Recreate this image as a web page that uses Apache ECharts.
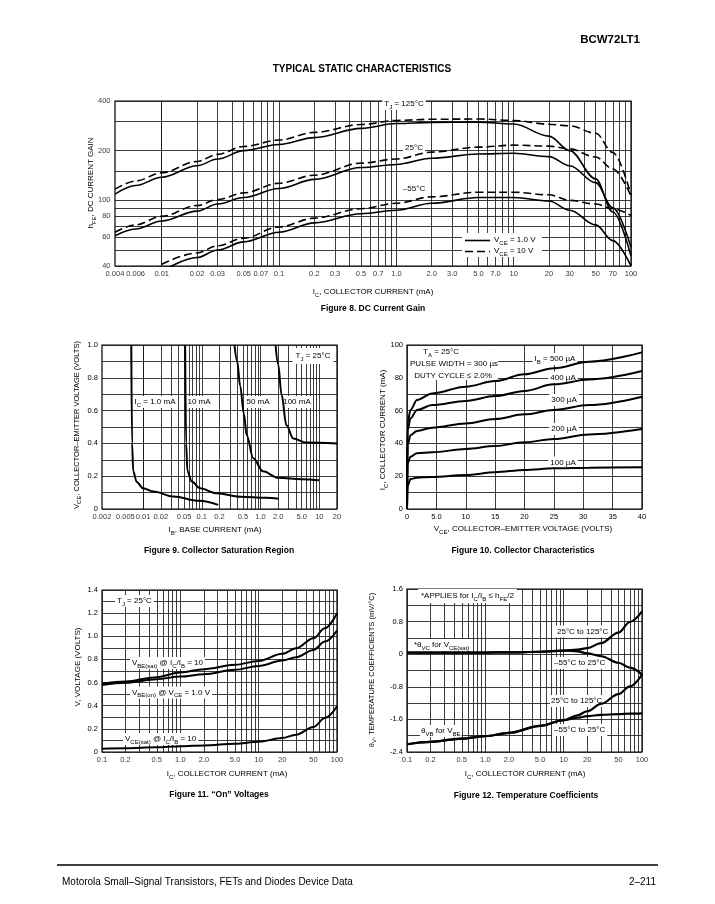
<!DOCTYPE html>
<html>
<head>
<meta charset="utf-8">
<title>BCW72LT1 Typical Static Characteristics</title>
<script src="https://cdn.jsdelivr.net/npm/echarts@6/dist/echarts.min.js"></script>
<style>
  html, body { margin: 0; padding: 0; background: #fff; }
  #main { width: 715px; height: 904px; }
</style>
</head>
<body>
<div id="main"></div>
<script>
var FONT = "'Liberation Sans', Arial, Helvetica, sans-serif";

// Figure 8 - DC current gain (hFE vs IC)
var gainIc     = [0.004, 0.006, 0.01, 0.02, 0.03, 0.05, 0.1, 0.2, 0.5, 1, 2, 5, 10, 20, 30, 50, 70, 100];
var gain125V1  = [109, 123, 138, 162, 178, 200, 218, 240, 273, 292, 297, 298, 290, 245, 200, 135, 85, 46];
var gain125V10 = [117, 131, 147, 172, 190, 212, 232, 258, 288, 305, 310, 311, 305, 289, 283, 255, 195, 108];
var gain25V1   = [61, 67, 75, 86, 95, 104, 118, 134, 158, 165, 180, 191, 193, 184, 162, 128, 90, 52];
var gain25V10  = [64, 71, 80, 93, 101, 111, 127, 142, 168, 178, 196, 210, 216, 213, 205, 183, 155, 106];
var gainM55V1  = [null, null, 37, 45, 50, 56, 64, 73, 83, 87, 96, 104, 104, 99, 87, 71, 57, 40];
var gainM55V10 = [null, null, 41, 48, 53, 59, 69, 78, 89, 96, 105, 112, 112, 108, 100, 95, 89, 81];
var gainXTicks = ['0.004', '0.006', '0.01', '0.02', '0.03', '0.05', '0.07', '0.1', '0.2', '0.3', '0.5', '0.7',
                  '1.0', '2.0', '3.0', '5.0', '7.0', '10', '20', '30', '50', '70', '100'];
var gainYTicks = [40, 60, 80, 100, 200, 400];
var gainYGrid  = [40, 50, 60, 70, 80, 90, 100, 150, 200, 300, 400];

// Figure 9 - collector saturation region (VCE vs IB)
var satIb1    = [0.0063, 0.0065, 0.0068, 0.0078, 0.010, 0.015, 0.033, 0.09, 0.19];
var satVce1   = [1.0, 0.40, 0.23, 0.165, 0.126, 0.106, 0.076, 0.050, 0.025];
var satIb10   = [0.052, 0.054, 0.057, 0.0675, 0.093, 0.18, 0.45, 1.25, 2.0];
var satVce10  = [1.0, 0.40, 0.23, 0.167, 0.126, 0.096, 0.075, 0.068, 0.063];
var satIb50   = [0.36, 0.40, 0.45, 0.52, 0.58, 0.75, 1.1, 2.0, 5.0, 10];
var satVce50  = [1.0, 0.90, 0.75, 0.58, 0.45, 0.31, 0.23, 0.19, 0.182, 0.175];
var satIb100  = [1.8, 2.0, 2.27, 2.76, 3.6, 6.0, 20];
var satVce100 = [1.0, 0.88, 0.70, 0.51, 0.43, 0.405, 0.40];
var satXTicks = ['0.002', '0.005', '0.01', '0.02', '0.05', '0.1', '0.2', '0.5', '1.0', '2.0', '5.0', '10', '20'];

// Figure 10 - collector characteristics (IC vs VCE)
var colVce   = [0, 0.1, 0.6, 1.7, 4.3, 10, 15, 20, 25, 31, 40];
var colIb100 = [0, 14, 18.3, 19.1, 19.5, 20.7, 22.4, 23.8, 24.8, 25.2, 25.4];
var colIb200 = [0, 27.8, 31.9, 34, 34.6, 36.6, 38.4, 40.7, 42.7, 45.5, 48.8];
var colIb300 = [0, 39, 45, 47.6, 49.6, 52.2, 54.9, 57.7, 60.4, 63.4, 68.5];
var colIb400 = [0, 48, 55.3, 60.4, 63.4, 65.9, 68.9, 72, 76, 79, 84.1];
var colIb500 = [0, 52.8, 60.4, 66.5, 70.5, 74.6, 78, 82.1, 85.8, 89.8, 95.5];

// Figure 11 - "on" voltages
var onIc     = [0.1, 0.2, 0.5, 1, 2, 5, 10, 20, 30, 50, 70, 100];
var onVbeSat = [0.589, 0.609, 0.647, 0.687, 0.716, 0.753, 0.787, 0.848, 0.897, 0.983, 1.069, 1.198];
var onVbeOn  = [0.578, 0.598, 0.629, 0.652, 0.672, 0.710, 0.744, 0.790, 0.819, 0.882, 0.954, 1.049];
var onVceSat = [0.029, 0.032, 0.040, 0.049, 0.057, 0.072, 0.089, 0.121, 0.149, 0.216, 0.293, 0.394];
var logXTicks = ['0.1', '0.2', '0.5', '1.0', '2.0', '5.0', '10', '20', '50', '100'];

// Figure 12 - temperature coefficients
var tcIc     = [0.1, 0.2, 0.5, 1, 2, 5, 10, 15, 20, 30, 50, 70, 100];
var tcVcHot  = [0.04, 0.04, 0.04, 0.04, 0.045, 0.06, 0.09, 0.11, 0.15, 0.27, 0.53, 0.79, 1.05];
var tcVcCold = [0.04, 0.04, 0.04, 0.04, 0.045, 0.06, 0.09, 0.07, 0.02, -0.05, -0.21, -0.33, -0.5];
var tcVbHot  = [-2.21, -2.15, -2.07, -2.01, -1.93, -1.76, -1.62, -1.50, -1.40, -1.22, -0.98, -0.79, -0.50];
var tcVbCold = [-2.21, -2.15, -2.07, -2.01, -1.93, -1.76, -1.62, -1.56, -1.52, -1.49, -1.47, -1.46, -1.45];

var GRID_LINE = { color: '#1a1a1a', width: 0.85 };

// pick a condensed face for tick numbers when one is installed
function hasFont(name) {
  var c = document.createElement('canvas').getContext('2d');
  var probe = '0.005 0.07 abcdefgh';
  c.font = '20px monospace';
  var w1 = c.measureText(probe).width;
  c.font = "20px '" + name + "', monospace";
  return c.measureText(probe).width !== w1;
}
var NARROW = hasFont('Liberation Sans Narrow');
var TICK_FONT = NARROW ? "'Liberation Sans Narrow', " + FONT : FONT;
var TICK_SIZE = NARROW ? 8.5 : 7.5;

function logLines(min, max) {
  var out = [];
  for (var e = -4; e <= 3; e++) {
    for (var d = 1; d <= 9; d++) {
      var v = +(d * Math.pow(10, e)).toPrecision(6);
      if (v >= min * 0.9999 && v <= max * 1.0001) out.push(v);
    }
  }
  return out;
}

function numLabel(v) {
  if (Math.abs(v) < 1e-9) return '0';
  return v.toFixed(1);
}

function hiddenLog(gi, min, max) {
  return {
    type: 'log', gridIndex: gi, logBase: 10, min: min, max: max,
    axisLine: { show: false }, axisTick: { show: false },
    axisLabel: { show: false }, splitLine: { show: false }
  };
}

function linAxis(gi, min, max, interval, fmt, minor) {
  return {
    type: 'value', gridIndex: gi, min: min, max: max, interval: interval,
    axisLine: { show: false }, axisTick: { show: false },
    axisLabel: { color: '#000', fontSize: TICK_SIZE, fontFamily: TICK_FONT, margin: 4, formatter: fmt,
                 showMinLabel: true, showMaxLabel: true },
    splitLine: { show: true, lineStyle: GRID_LINE },
    minorTick: { show: false, splitNumber: 2 },
    minorSplitLine: { show: minor !== false, lineStyle: GRID_LINE }
  };
}

function gridLines(gi, xs, ys) {
  var data = xs.map(function (v) { return { xAxis: v }; })
    .concat(ys.map(function (v) { return { yAxis: v }; }));
  return {
    type: 'line', xAxisIndex: gi, yAxisIndex: gi, data: [], silent: true, z: 1,
    markLine: {
      silent: true, z: 1, symbol: ['none', 'none'], animation: false,
      label: { show: false }, emphasis: { disabled: true },
      lineStyle: { color: GRID_LINE.color, width: GRID_LINE.width, type: 'solid' },
      data: data
    }
  };
}

function tickLabels(gi, points, position) {
  return {
    type: 'scatter', xAxisIndex: gi, yAxisIndex: gi, silent: true, z: 4,
    symbolSize: 1, clip: false, itemStyle: { color: 'rgba(0,0,0,0)' },
    label: {
      show: true, position: position, distance: position === 'left' ? 4 : 3,
      color: '#000', fontSize: TICK_SIZE, fontFamily: TICK_FONT,
      formatter: function (p) { return p.data[2]; }
    },
    data: points
  };
}

function xTickPoints(labels, yPos) {
  return labels.map(function (s) { return [parseFloat(s), yPos, s]; });
}
function yTickPoints(values, xPos) {
  return values.map(function (v) { return [xPos, v, String(v)]; });
}

function curve(gi, xs, ys, dashed, width) {
  var pts = [];
  xs.forEach(function (x, i) { if (ys[i] != null) pts.push([x, ys[i]]); });
  return {
    type: 'line', xAxisIndex: gi, yAxisIndex: gi, data: pts,
    showSymbol: false, symbol: 'none', smooth: 0.35, smoothMonotone: 'x',
    silent: true, z: 3,
    lineStyle: { color: '#000', width: width || 1.8, type: dashed ? [8, 4] : 'solid' }
  };
}

// text helper; {s|..} gives a subscript. Boxed labels sit under the curves, over the grid.
function T(x, y, text, o) {
  o = o || {};
  var fs = o.size || 8;
  var style = {
    text: text, fill: '#000', fontSize: fs, fontFamily: FONT,
    fontWeight: o.bold ? 'bold' : 'normal',
    align: o.align || 'center', verticalAlign: 'middle', lineHeight: fs + 4,
    rich: { s: { fontSize: Math.round(fs * 0.75), fontFamily: FONT, fill: '#000', verticalAlign: 'bottom' } }
  };
  if (o.bg) { style.backgroundColor = '#fff'; style.padding = o.pad || [0, 2, 0, 2]; }
  return { type: 'text', x: x, y: y, rotation: o.rot ? Math.PI / 2 : 0, z: o.bg ? 2 : 50, silent: true, style: style };
}

var grids = [
  { left: 115, top: 101, width: 516, height: 165 },
  { left: 102, top: 345, width: 235, height: 164 },
  { left: 407, top: 345, width: 235, height: 164 },
  { left: 102, top: 590, width: 235, height: 162 },
  { left: 407, top: 589, width: 235, height: 163 }
].map(function (g) {
  return Object.assign({ show: true, borderColor: '#000', borderWidth: 1.2,
    backgroundColor: 'transparent', containLabel: false, outerBoundsMode: 'none' }, g);
});

var series = [
  // figure 8
  gridLines(0, logLines(0.004, 100), gainYGrid),
  tickLabels(0, xTickPoints(gainXTicks, 40), 'bottom'),
  tickLabels(0, yTickPoints(gainYTicks, 0.004), 'left'),
  curve(0, gainIc, gain125V1, false, 1.6),
  curve(0, gainIc, gain125V10, true, 1.6),
  curve(0, gainIc, gain25V1, false, 1.6),
  curve(0, gainIc, gain25V10, true, 1.6),
  curve(0, gainIc, gainM55V1, false, 1.6),
  curve(0, gainIc, gainM55V10, true, 1.6),
  // figure 9
  gridLines(1, logLines(0.002, 20), []),
  tickLabels(1, xTickPoints(satXTicks, 0), 'bottom'),
  curve(1, satIb1, satVce1, false, 2),
  curve(1, satIb10, satVce10, false, 2),
  curve(1, satIb50, satVce50, false, 2),
  curve(1, satIb100, satVce100, false, 2),
  // figure 10
  curve(2, colVce, colIb100, false, 2),
  curve(2, colVce, colIb200, false, 2),
  curve(2, colVce, colIb300, false, 2),
  curve(2, colVce, colIb400, false, 2),
  curve(2, colVce, colIb500, false, 2),
  // figure 11
  gridLines(3, logLines(0.1, 100), []),
  tickLabels(3, xTickPoints(logXTicks, 0), 'bottom'),
  curve(3, onIc, onVbeSat, false, 2),
  curve(3, onIc, onVbeOn, false, 2),
  curve(3, onIc, onVceSat, false, 2),
  // figure 12
  gridLines(4, logLines(0.1, 100), []),
  tickLabels(4, xTickPoints(logXTicks, -2.4), 'bottom'),
  curve(4, tcIc, tcVcHot, false, 2.2),
  curve(4, tcIc, tcVcCold, false, 2.2),
  curve(4, tcIc, tcVbHot, false, 2.2),
  curve(4, tcIc, tcVbCold, false, 2.2)
];

var graphics = [
  T(640, 40, 'BCW72LT1', { size: 11.5, bold: true, align: 'right' }),
  T(362, 69, 'TYPICAL STATIC CHARACTERISTICS', { size: 10, bold: true }),

  // figure 8
  T(91, 183, 'h{s|FE}, DC CURRENT GAIN', { rot: true }),
  T(373, 292, 'I{s|C}, COLLECTOR CURRENT (mA)'),
  T(373, 309, 'Figure 8. DC Current Gain', { size: 8.5, bold: true }),
  T(404, 104, 'T{s|J} = 125°C', { bg: true }),
  T(414, 148, '25°C', { bg: true }),
  T(414, 189, '–55°C', { bg: true }),
  { type: 'rect', shape: { x: 462, y: 233, width: 80, height: 24 }, style: { fill: '#fff' }, z: 2, silent: true },
  { type: 'line', shape: { x1: 465, y1: 240.5, x2: 490, y2: 240.5 }, style: { stroke: '#000', lineWidth: 1.6 }, z: 50, silent: true },
  { type: 'line', shape: { x1: 465, y1: 251.5, x2: 490, y2: 251.5 }, style: { stroke: '#000', lineWidth: 1.6, lineDash: [8, 4] }, z: 50, silent: true },
  T(494, 240, 'V{s|CE} = 1.0 V', { align: 'left' }),
  T(494, 251, 'V{s|CE} = 10 V', { align: 'left' }),

  // figure 9
  T(77, 425, 'V{s|CE}, COLLECTOR–EMITTER VOLTAGE (VOLTS)', { rot: true, size: 7.5 }),
  T(215, 530, 'I{s|B}, BASE CURRENT (mA)'),
  T(219, 551, 'Figure 9. Collector Saturation Region', { size: 8.5, bold: true }),
  T(155, 402, 'I{s|C} = 1.0 mA', { bg: true }),
  T(199, 402, '10 mA', { bg: true }),
  T(258, 402, '50 mA', { bg: true }),
  T(297, 402, '100 mA', { bg: true }),
  T(313, 356, 'T{s|J} = 25°C', { bg: true, pad: [2, 3, 2, 3] }),

  // figure 10
  T(383, 430, 'I{s|C}, COLLECTOR CURRENT (mA)', { rot: true }),
  T(523, 529, 'V{s|CE}, COLLECTOR–EMITTER VOLTAGE (VOLTS)'),
  T(523, 551, 'Figure 10. Collector Characteristics', { size: 8.5, bold: true }),
  { type: 'rect', shape: { x: 408, y: 346, width: 90, height: 34 }, style: { fill: '#fff' }, z: 2, silent: true },
  T(441, 352, 'T{s|A} = 25°C'),
  T(454, 364, 'PULSE WIDTH = 300 µs'),
  T(453, 375.5, 'DUTY CYCLE ≤ 2.0%'),
  T(555, 359, 'I{s|B} = 500 µA', { bg: true }),
  T(563, 377.5, '400 µA', { bg: true }),
  T(564, 400, '300 µA', { bg: true }),
  T(564, 429, '200 µA', { bg: true }),
  T(563, 462.5, '100 µA', { bg: true }),

  // figure 11
  T(78, 667, 'V, VOLTAGE (VOLTS)', { rot: true }),
  T(227, 774, 'I{s|C}, COLLECTOR CURRENT (mA)'),
  T(219, 795, 'Figure 11. “On” Voltages', { size: 8.5, bold: true }),
  T(115, 601, 'T{s|J} = 25°C', { bg: true, align: 'left' }),
  T(130, 663, 'V{s|BE(sat)} @ I{s|C}/I{s|B} = 10', { bg: true, align: 'left' }),
  T(130, 692.5, 'V{s|BE(on)} @ V{s|CE} = 1.0 V', { bg: true, align: 'left' }),
  T(123, 739, 'V{s|CE(sat)} @ I{s|C}/I{s|B} = 10', { bg: true, align: 'left' }),

  // figure 12
  T(372, 670, 'θ{s|V}, TEMPERATURE COEFFICIENTS (mV/°C)', { rot: true, size: 7.5 }),
  T(525, 774, 'I{s|C}, COLLECTOR CURRENT (mA)'),
  T(526, 796, 'Figure 12. Temperature Coefficients', { size: 8.5, bold: true }),
  T(418, 596, '*APPLIES for I{s|C}/I{s|B} ≤ h{s|FE}/2', { bg: true, align: 'left', pad: [1, 3, 1, 3] }),
  T(555, 631.5, '25°C to 125°C', { bg: true, align: 'left' }),
  T(413, 645, '*θ{s|VC} for V{s|CE(sat)}', { bg: true, align: 'left', pad: [0, 1, 0, 1] }),
  T(552, 663, '–55°C to 25°C', { bg: true, align: 'left' }),
  T(550, 701, '25°C to 125°C', { bg: true, align: 'left', pad: [0, 1, 0, 1] }),
  T(420, 731, 'θ{s|VB} for V{s|BE}', { bg: true, align: 'left', pad: [0, 1, 0, 1] }),
  T(552, 730, '–55°C to 25°C', { bg: true, align: 'left' }),

  // footer
  { type: 'line', shape: { x1: 57, y1: 865, x2: 658, y2: 865 }, style: { stroke: '#000', lineWidth: 1.5 }, z: 50, silent: true },
  T(62, 882, 'Motorola Small–Signal Transistors, FETs and Diodes Device Data', { size: 10, align: 'left' }),
  T(656, 882, '2–211', { size: 10, align: 'right' })
];

var chart = echarts.init(document.getElementById('main'));
chart.setOption({
  animation: false,
  backgroundColor: '#fff',
  textStyle: { fontFamily: FONT },
  grid: grids,
  xAxis: [
    hiddenLog(0, 0.004, 100),
    hiddenLog(1, 0.002, 20),
    linAxis(2, 0, 40, 5, function (v) { return v === 0 ? '0' : (v === 5 ? '5.0' : String(v)); }, false),
    hiddenLog(3, 0.1, 100),
    hiddenLog(4, 0.1, 100)
  ],
  yAxis: [
    hiddenLog(0, 40, 400),
    linAxis(1, 0, 1, 0.2, numLabel),
    linAxis(2, 0, 100, 20, function (v) { return String(v); }),
    linAxis(3, 0, 1.4, 0.2, numLabel),
    linAxis(4, -2.4, 1.6, 0.8, numLabel)
  ],
  series: series,
  graphic: graphics
});
</script>
</body>
</html>
